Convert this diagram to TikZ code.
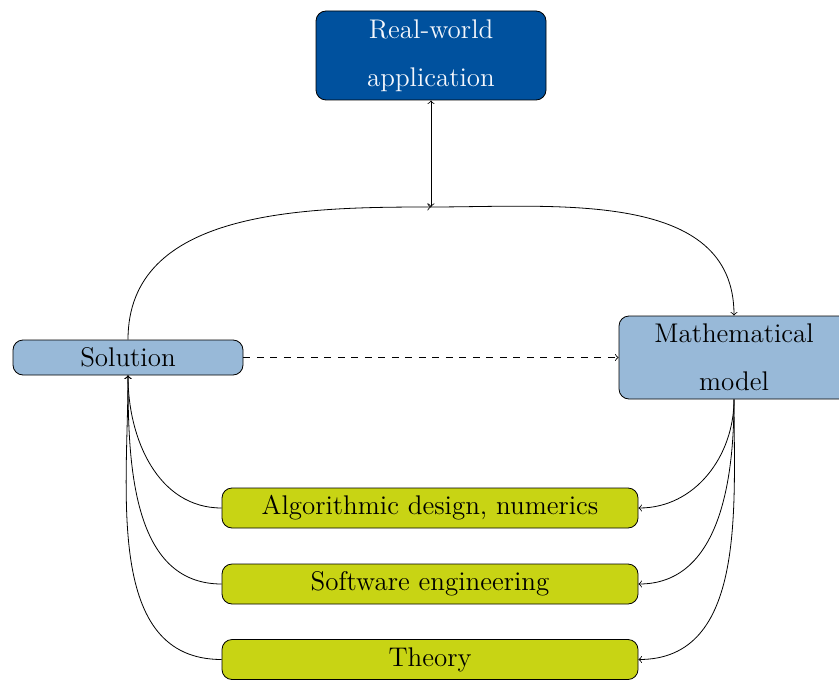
\documentclass[tikz,border=0pt]{standalone}
\definecolor{rwblue}{RGB}{0,81,158}
\definecolor{lblue}{RGB}{152,185,216}
\definecolor{lgreen}{RGB}{200,212,20}
\definecolor{rwtext}{RGB}{245,247,252}
\begin{document}
\begin{tikzpicture}[x=0.5pt,y=-0.5pt,
  box/.style={draw=black, rounded corners=5pt, inner sep=0pt, align=center,
    font=\fontsize{13.5}{24}\selectfont},
  rwbox/.style={box, fill=rwblue, text=rwtext, minimum width=115pt, minimum height=44.5pt},
  solbox/.style={box, fill=lblue, minimum width=115pt, minimum height=17.5pt},
  mmbox/.style={box, fill=lblue, minimum width=115pt, minimum height=41.5pt},
  gbox/.style={box, fill=lgreen, minimum width=208pt, minimum height=20pt},
  conn/.style={->}]
\useasboundingbox (0,0) rectangle (839,679);
\node[rwbox] (rw) at (431,55.5) {Real-world\\application};
\node[solbox] (sol) at (128,357.5) {Solution};
\node[mmbox] (mm) at (734,357.5) {Mathematical\\model};
\node[gbox] (alg) at (430,508) {Algorithmic design, numerics};
\node[gbox] (sw) at (430,584) {Software engineering};
\node[gbox] (th) at (430,659.5) {Theory};
\coordinate (j) at (431,207);
\draw[<->] (rw.south) -- (j);
\draw[conn] (sol.north) to[out=90,in=180] (j);
\draw[conn] (j) to[out=0,in=90] (mm.north);
\draw[conn,dash pattern=on 3.5pt off 3.25pt] (sol.east) -- (mm.west);
\foreach \n in {alg,sw,th}{
  \draw[conn] (\n.west) to[out=180,in=-90] (sol.south);
  \draw[conn] (mm.south) to[out=-90,in=0] (\n.east);
}
\end{tikzpicture}
\end{document}
